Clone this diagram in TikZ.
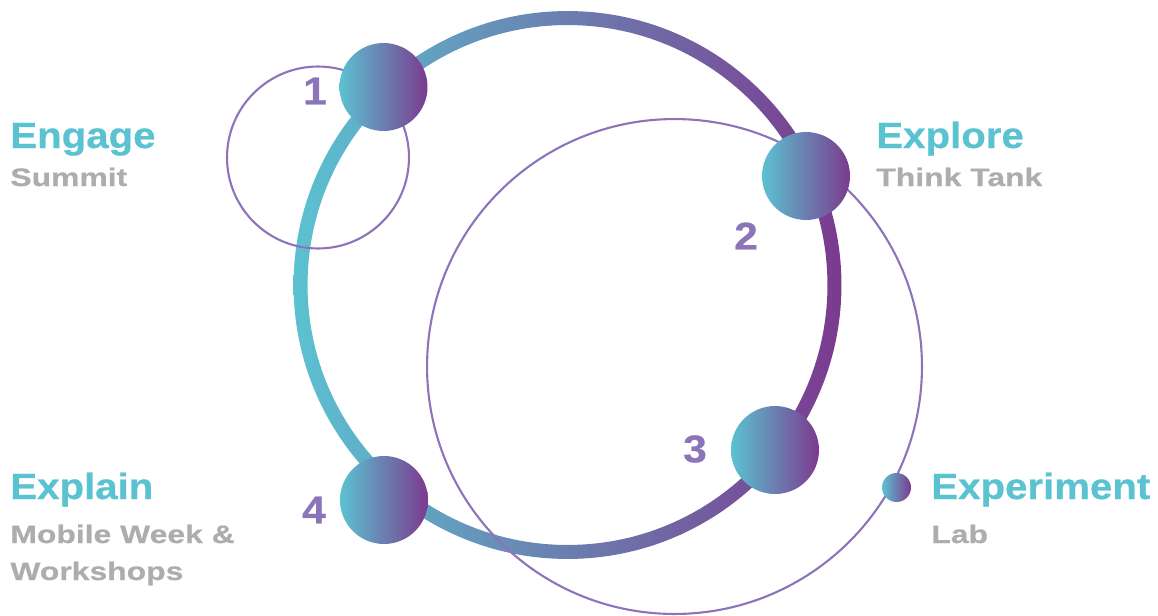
\documentclass[tikz,border=0pt]{standalone}
\usepackage{fontspec}
\setmainfont{Liberation Sans}
\newfontfamily\titrefont{Liberation Sans}[FakeStretch=1.1,FakeBold=0.6]
\newfontfamily\sousfont{Liberation Sans}[FakeStretch=1.26,FakeBold=0.6]
\usepackage{tikz}
\usetikzlibrary{positioning}
\definecolor{cyanCycle}{HTML}{5BC2D1}
\definecolor{violetCycle}{HTML}{7B3A8E}
\definecolor{lilas}{HTML}{8D74BA}
\definecolor{grisTexte}{HTML}{ADADAD}
\definecolor{numViolet}{HTML}{8C74B8}

\begin{document}
\begin{tikzpicture}[x=0.02cm,y=-0.02cm,
  bille/.style={circle,inner sep=0pt,minimum size=1.76cm,
                left color=cyanCycle,right color=violetCycle},
  petite/.style={bille,minimum size=0.58cm},
  orbite/.style={draw=lilas,line width=1.2pt},
  num/.style={inner sep=0pt,text=numViolet,
              font=\titrefont\bfseries\fontsize{22}{26}\selectfont},
  titre/.style={anchor=base west,inner sep=0pt,text=cyanCycle,
                font=\titrefont\bfseries\fontsize{20.8}{24}\selectfont},
  sous/.style={anchor=base west,inner sep=0pt,text=grisTexte,
               font=\sousfont\bfseries\fontsize{14.4}{17}\selectfont}]

  \useasboundingbox (0,0) rectangle (1158,615);

  % Anneau principal
  \coordinate (centre) at (567.5,285);
  \shade[left color=cyanCycle,right color=violetCycle,even odd rule]
    (centre) circle[radius=5.48cm] (centre) circle[radius=5.2cm];

  % Orbites fines
  \coordinate (cPetit) at (318,157.5);
  \coordinate (cGrand) at (674.5,366.5);
  \draw[orbite] (cPetit) circle[radius=1.82cm];
  \draw[orbite] (cGrand) circle[radius=4.95cm];

  % Billes
  \node[bille] (b1) at (383.5,87) {};
  \node[bille] (b2) at (806,176)  {};
  \node[bille] (b3) at (775,450)  {};
  \node[bille] (b4) at (384,500)  {};
  \node[petite] (b5) at (896.5,487.5) {};

  % Numeros
  \node[num] (n1) at (315,91)  {1};
  \node[num] (n2) at (746,236) {2};
  \node[num] (n3) at (695,449) {3};
  \node[num] (n4) at (314,510) {4};

  % Etiquettes
  \node[titre] (engage)  at (10,148)  {Engage};
  \node[sous]  (summit)  at (10,186)  {Summit};
  \node[titre] (explore) at (876,148) {Explore};
  \node[sous]  (tank)    at (876,186) {Think Tank};
  \node[titre] (explain) at (10,499)  {Explain};
  \node[sous]  (mobile)  at (10,543)  {Mobile Week \&};
  \node[sous]  (atelier) at (10,580)  {Workshops};
  \node[titre] (experim) at (931,499) {Experiment};
  \node[sous]  (lab)     at (931,543) {Lab};
\end{tikzpicture}
\end{document}
